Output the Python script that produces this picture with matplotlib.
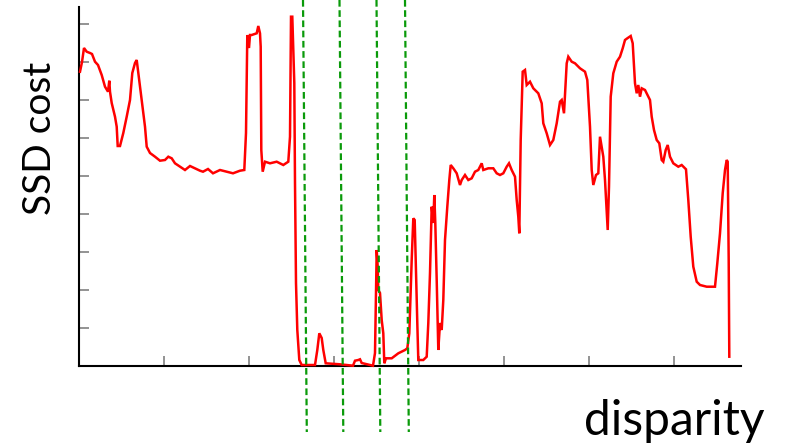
import matplotlib
matplotlib.use("Agg")
import matplotlib.pyplot as plt

# disparity (arbitrary units) and SSD cost (arbitrary units)
disparity = [1, 3, 5, 7.7, 11, 13, 16, 19, 22.7, 26, 29, 30.3, 31, 32.7, 36, 37.7, 38.7, 41, 44.3, 47.7,
             51, 53.3, 56, 57.7, 59.3, 62.7, 66, 67.7, 71, 76, 81, 86, 89.3, 92.7, 96, 101, 106, 111, 116, 121,
             124, 129, 134, 141, 147.7, 154, 161, 165.3, 167, 168.3, 170, 171, 172.7, 177.7, 179.3, 181, 181.7, 182.3, 183.7, 186,
             191, 197.7, 204.3, 209.3, 211, 212, 213.3, 214.3, 215.3, 216, 217, 218.3, 220.3, 222.7, 236, 238.3, 240.3, 242.7, 244.3, 246.7,
             261, 274, 276, 279.3, 281, 282.7, 294, 296, 297.7, 298.7, 299.3, 301, 302.7, 304.3, 305.3, 307, 312.7, 319.3, 326, 328.3,
             330.3, 332.7, 334.3, 335.7, 337, 338.3, 339.3, 344.3, 347.7, 349.3, 351, 352.7, 354.3, 355.3, 356.3, 357.7, 359.3, 361, 362.7, 364.3,
             366, 368.3, 370.3, 371.7, 374.3, 377.7, 381, 382.7, 386, 389.3, 392.7, 396, 399.3, 402.7, 404.3, 409.3, 414.3, 417.7, 421, 424.3,
             427.7, 430, 432.7, 436, 437.7, 439.3, 440.3, 441.7, 443.7, 446, 447.7, 451, 454.3, 459.3, 462.7, 464.3, 467.7, 471, 474.3, 477.7,
             481, 482.7, 485, 487.7, 489.3, 492.7, 496, 501, 506, 508.3, 511, 512.7, 514.3, 517, 519.3, 521, 522.7, 524.3, 526, 527.7,
             528.7, 530, 531.7, 534.3, 537.7, 541, 543.7, 546, 548.3, 551.7, 553.7, 556, 557.7, 559.3, 561, 562.7, 566, 569.3, 571, 572.7,
             575, 577.7, 580.3, 582.7, 584.3, 586.7, 588.7, 591, 594.3, 599.3, 602.7, 607, 609.3, 611.7, 614.3, 617.7, 621, 627.7, 636, 638.3,
             641, 643.7, 646, 647.7, 648.7, 649.7, 650.3]
ssd_cost = [294.3, 304, 318, 314.3, 313, 312, 304.3, 301, 291, 279.3, 274.3, 285.3, 274.3, 263, 249.3, 239.3, 220, 220, 233, 249.3,
            266, 293, 303, 306, 293, 266, 239.3, 219.3, 213, 209.3, 205.3, 206, 209.3, 207.7, 202.7, 199.3, 196, 200, 197.7, 195.3,
            194.3, 197, 192.7, 196, 194.3, 192.7, 195.3, 196, 233, 331, 318, 331, 331, 332.7, 340, 332.7, 319.3, 216, 194.3, 204.3,
            202.7, 204.3, 201, 204.3, 229.3, 349.3, 349.3, 316, 283, 183, 83, 36, 6, 1, 1, 16, 32.7, 28, 16, 2.7,
            1.7, 0.3, 5.3, 6, 6.7, 3, 0.3, 13, 116, 99.3, 76, 73, 46, 32.7, 2.7, 7.7, 7.7, 12.7, 16, 17.7,
            32.7, 106, 147.7, 146, 93, 43, 6, 6, 9.3, 43, 93, 159.3, 143, 171, 143, 86, 16, 43, 36, 66,
            126, 159.3, 186, 201, 197.7, 192.7, 181, 186, 191, 186, 187.7, 194.3, 196, 202.7, 196, 197.7, 197.7, 192.7, 191, 192.7,
            199.3, 202.7, 196, 189.3, 166, 149.3, 132.7, 226, 294.3, 296, 281, 284.3, 277.7, 272.7, 262.7, 242.7, 232.7, 221, 226, 242.7,
            264.3, 266, 252.7, 302.7, 309.3, 304.3, 302.7, 297.7, 294.3, 286, 239.3, 196, 181, 191, 192.7, 229.3, 219.3, 209.3, 186, 154.3,
            136, 179.3, 269.3, 292.7, 304.3, 309.3, 317.7, 326, 327.7, 330, 322.7, 282.7, 272.7, 281, 269.3, 277.7, 276, 269.3, 266, 249.3,
            236, 226, 222.7, 206, 204.3, 216, 221, 209.3, 202.7, 199.3, 201, 196.7, 166, 129.3, 99.3, 84.3, 81, 79.3, 79.3, 102.7,
            132.7, 172.7, 196, 206, 204.3, 106, 9.3]

# disparities marked with green dashed lines
marked_disparities = [224, 260.5, 297.5, 326]

x_ticks = [85, 170, 255, 340, 425, 510, 595]
y_ticks = [38, 76, 114, 152, 190, 228, 266, 304, 342]

fig = plt.figure(figsize=(7.85, 4.45), dpi=100)
ax = fig.add_axes([79 / 785, 1 - 366 / 445, 662 / 785, 359 / 445])
ax.set_xlim(0, 662)
ax.set_ylim(0, 359)

ax.plot(disparity, ssd_cost, color="#ff0000", lw=1.8, zorder=3, clip_on=False,
        solid_joinstyle="miter")

for d in marked_disparities:
    ax.plot([d, d + 3.8], [366, -66], color="#0a9a0a", lw=1.6, ls=(0, (3, 1.6)),
            clip_on=False, zorder=4)

ax.set_xticks(x_ticks)
ax.set_yticks(y_ticks)
ax.set_xticklabels([])
ax.set_yticklabels([])
ax.tick_params(direction="in", length=7, width=1.2, color="#808080")
for s in ["top", "right"]:
    ax.spines[s].set_visible(False)
for s in ["left", "bottom"]:
    ax.spines[s].set_linewidth(1.5)
    ax.spines[s].set_color("black")

fig.text(765 / 785, 1 - 435 / 445, "disparity", family=["Lato", "DejaVu Sans"], fontsize=34.5,
         ha="right", va="baseline")
fig.text(40 / 785, 1 - 138 / 445, "SSD cost", family=["Lato", "DejaVu Sans"], fontsize=28,
         rotation=90, ha="center", va="center")

fig.savefig("out.png", dpi=100)
